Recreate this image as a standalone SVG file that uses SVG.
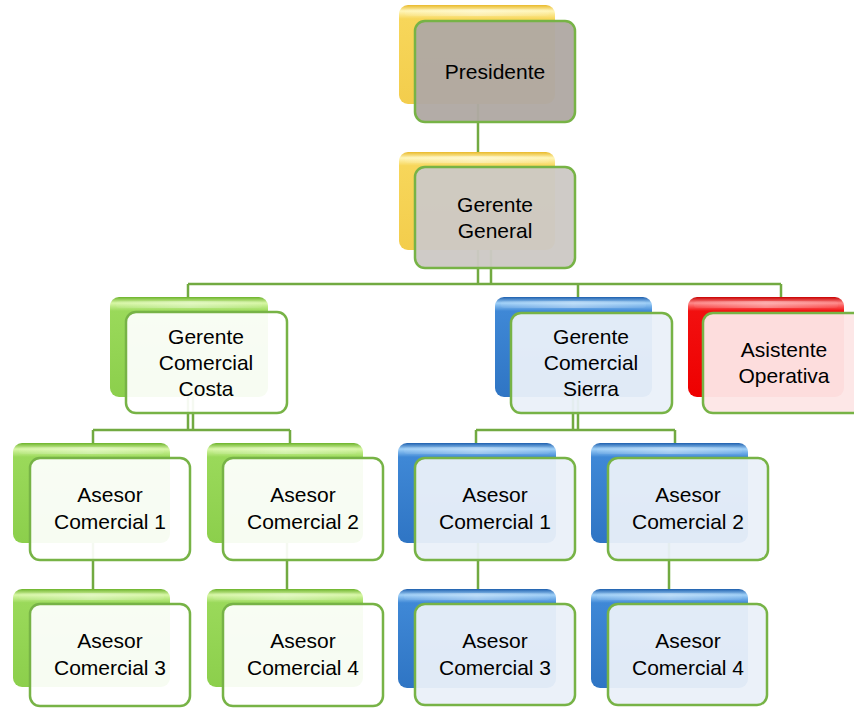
<svg xmlns="http://www.w3.org/2000/svg" width="854" height="708" viewBox="0 0 854 708">
<defs>
  <linearGradient id="gY" x1="0" y1="0" x2="0" y2="1">
    <stop offset="0" stop-color="#e9b92a"/>
    <stop offset="0.06" stop-color="#fff6b8"/>
    <stop offset="0.14" stop-color="#f7d65a"/>
    <stop offset="1" stop-color="#f3cd4c"/>
  </linearGradient>
  <linearGradient id="gG" x1="0" y1="0" x2="0" y2="1">
    <stop offset="0" stop-color="#6cb32a"/>
    <stop offset="0.06" stop-color="#d8f7a6"/>
    <stop offset="0.14" stop-color="#9ad95a"/>
    <stop offset="1" stop-color="#8ccf4c"/>
  </linearGradient>
  <linearGradient id="gB" x1="0" y1="0" x2="0" y2="1">
    <stop offset="0" stop-color="#1d5fae"/>
    <stop offset="0.06" stop-color="#9fd0f8"/>
    <stop offset="0.14" stop-color="#3f88d6"/>
    <stop offset="1" stop-color="#2f75c4"/>
  </linearGradient>
  <linearGradient id="gR" x1="0" y1="0" x2="0" y2="1">
    <stop offset="0" stop-color="#c80000"/>
    <stop offset="0.06" stop-color="#ff8a8a"/>
    <stop offset="0.14" stop-color="#f21010"/>
    <stop offset="1" stop-color="#ee0000"/>
  </linearGradient>
  <linearGradient id="hl" x1="0" y1="0" x2="1" y2="0">
    <stop offset="0" stop-color="#ffffff" stop-opacity="0.05"/>
    <stop offset="0.5" stop-color="#ffffff" stop-opacity="0.35"/>
    <stop offset="1" stop-color="#ffffff" stop-opacity="0.05"/>
  </linearGradient>
</defs>
<style>
  .conn { stroke: #72aa41; stroke-width: 2.5; fill: none; }
  .back { stroke: none; }
  .y { fill: url(#gY); }
  .g { fill: url(#gG); }
  .b { fill: url(#gB); }
  .r { fill: url(#gR); }
  .hl { fill: url(#hl); }
  .front { stroke: #77b346; stroke-width: 2.5; }
  .fP { fill: #b0a9a3; fill-opacity: 0.96; }
  .fGG { fill: #cdc9c5; fill-opacity: 0.96; }
  .fG { fill: #ffffff; fill-opacity: 0.93; }
  .fB { fill: #eaf0f9; fill-opacity: 0.95; }
  .fR { fill: #fde6e6; fill-opacity: 0.96; }
  text { font-family: "Liberation Sans", Arial, sans-serif; font-size: 21px; fill: #000; text-anchor: middle; }
</style>

<g id="connectors">
  <path class="conn" d="M478,100 V190"/>
  <path class="conn" d="M478,250 V284 M491,250 V284 M188,284 H781 M188,284 V300 M578,284 V300 M781,284 V300"/>
  <path class="conn" d="M188,395 V430 M193,395 V430 M93,430 H290 M93,430 V446 M290,430 V446"/>
  <path class="conn" d="M573,395 V430 M578,395 V430 M476,430 H675 M476,430 V446 M675,430 V446"/>
  <path class="conn" d="M93,540 V592 M287,540 V592 M478,540 V592 M669,540 V592"/>
</g>

<g id="presidente">
  <rect class="back y" x="399" y="5" width="156" height="99" rx="9"/>
  <rect class="hl" x="405" y="9" width="144" height="7" rx="3"/>
  <rect class="front fP" x="415" y="21" width="160" height="101" rx="10"/>
  <text x="495" y="79">Presidente</text>
</g>

<g id="gerente-general">
  <rect class="back y" x="399" y="152" width="156" height="98" rx="9"/>
  <rect class="hl" x="405" y="156" width="144" height="7" rx="3"/>
  <rect class="front fGG" x="415" y="167" width="160" height="101" rx="10"/>
  <text x="495" y="212">Gerente</text>
  <text x="495" y="238">General</text>
</g>

<g id="gerente-comercial-costa">
  <rect class="back g" x="110" y="297" width="158" height="100" rx="9"/>
  <rect class="hl" x="116" y="301" width="146" height="7" rx="3"/>
  <rect class="front fG" x="126" y="312" width="161" height="101" rx="10"/>
  <text x="206" y="344">Gerente</text>
  <text x="206" y="370">Comercial</text>
  <text x="206" y="396">Costa</text>
</g>

<g id="gerente-comercial-sierra">
  <rect class="back b" x="495" y="297" width="157" height="100" rx="9"/>
  <rect class="hl" x="501" y="301" width="145" height="7" rx="3"/>
  <rect class="front fB" x="511" y="313" width="161" height="100" rx="10"/>
  <text x="591" y="344">Gerente</text>
  <text x="591" y="370">Comercial</text>
  <text x="591" y="396">Sierra</text>
</g>

<g id="asistente-operativa">
  <rect class="back r" x="688" y="297" width="156" height="100" rx="9"/>
  <rect class="hl" x="694" y="301" width="144" height="7" rx="3"/>
  <rect class="front fR" x="703" y="313" width="160" height="100" rx="10"/>
  <text x="784" y="357">Asistente</text>
  <text x="784" y="383">Operativa</text>
</g>

<g id="costa-asesor-1">
  <rect class="back g" x="13" y="443" width="157" height="100" rx="9"/>
  <rect class="hl" x="19" y="447" width="145" height="7" rx="3"/>
  <rect class="front fG" x="30" y="458" width="160" height="102" rx="10"/>
  <text x="110" y="502">Asesor</text>
  <text x="110" y="529">Comercial 1</text>
</g>

<g id="costa-asesor-2">
  <rect class="back g" x="207" y="443" width="156" height="100" rx="9"/>
  <rect class="hl" x="213" y="447" width="144" height="7" rx="3"/>
  <rect class="front fG" x="223" y="458" width="160" height="102" rx="10"/>
  <text x="303" y="502">Asesor</text>
  <text x="303" y="529">Comercial 2</text>
</g>

<g id="costa-asesor-3">
  <rect class="back g" x="13" y="589" width="157" height="98" rx="9"/>
  <rect class="hl" x="19" y="593" width="145" height="7" rx="3"/>
  <rect class="front fG" x="30" y="604" width="160" height="102" rx="10"/>
  <text x="110" y="648">Asesor</text>
  <text x="110" y="675">Comercial 3</text>
</g>

<g id="costa-asesor-4">
  <rect class="back g" x="207" y="589" width="156" height="98" rx="9"/>
  <rect class="hl" x="213" y="593" width="144" height="7" rx="3"/>
  <rect class="front fG" x="223" y="604" width="160" height="102" rx="10"/>
  <text x="303" y="648">Asesor</text>
  <text x="303" y="675">Comercial 4</text>
</g>

<g id="sierra-asesor-1">
  <rect class="back b" x="398" y="443" width="158" height="100" rx="9"/>
  <rect class="hl" x="404" y="447" width="146" height="7" rx="3"/>
  <rect class="front fB" x="415" y="458" width="160" height="102" rx="10"/>
  <text x="495" y="502">Asesor</text>
  <text x="495" y="529">Comercial 1</text>
</g>

<g id="sierra-asesor-2">
  <rect class="back b" x="591" y="443" width="157" height="100" rx="9"/>
  <rect class="hl" x="597" y="447" width="145" height="7" rx="3"/>
  <rect class="front fB" x="608" y="458" width="160" height="102" rx="10"/>
  <text x="688" y="502">Asesor</text>
  <text x="688" y="529">Comercial 2</text>
</g>

<g id="sierra-asesor-3">
  <rect class="back b" x="398" y="589" width="158" height="99" rx="9"/>
  <rect class="hl" x="404" y="593" width="146" height="7" rx="3"/>
  <rect class="front fB" x="415" y="604" width="160" height="101" rx="10"/>
  <text x="495" y="648">Asesor</text>
  <text x="495" y="675">Comercial 3</text>
</g>

<g id="sierra-asesor-4">
  <rect class="back b" x="591" y="589" width="157" height="99" rx="9"/>
  <rect class="hl" x="597" y="593" width="145" height="7" rx="3"/>
  <rect class="front fB" x="608" y="604" width="159" height="101" rx="10"/>
  <text x="688" y="648">Asesor</text>
  <text x="688" y="675">Comercial 4</text>
</g>
</svg>
